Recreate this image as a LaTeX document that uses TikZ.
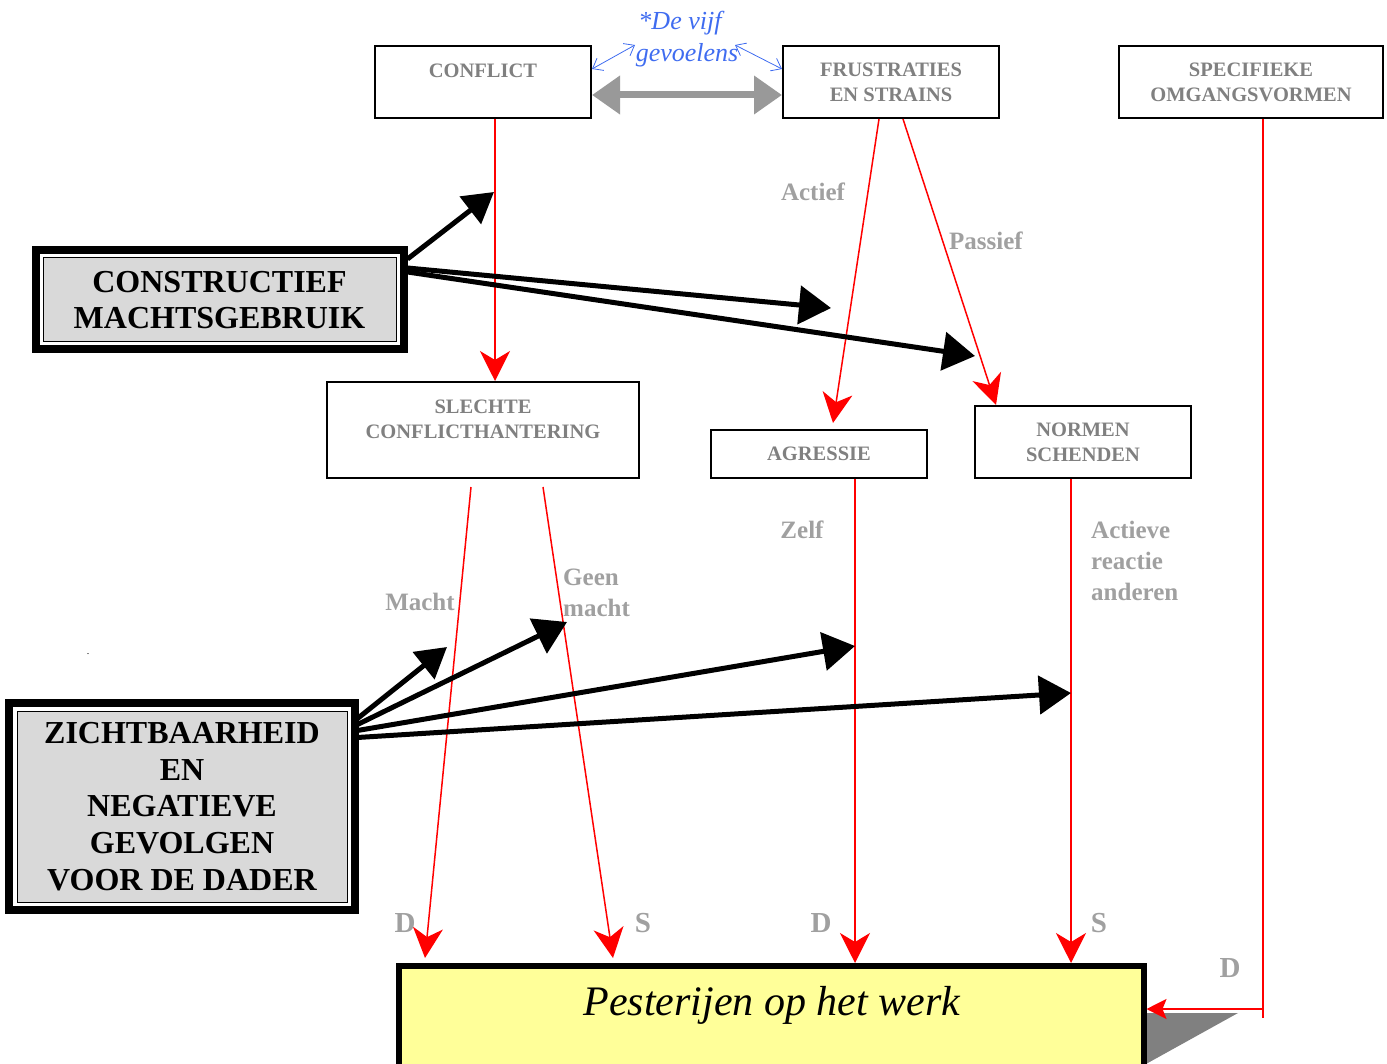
\documentclass[tikz,border=0pt]{standalone}
\usepackage{fontspec}
\setmainfont{Liberation Serif}
\usetikzlibrary{arrows.meta,calc}
\definecolor{boxgray}{HTML}{808080}
\definecolor{lblgray}{HTML}{A0A0A0}
\definecolor{framefill}{HTML}{D9D9D9}
\definecolor{pestyellow}{HTML}{FFFF99}
\definecolor{vblue}{HTML}{3F6CF0}
\definecolor{garrow}{HTML}{999999}
\begin{document}
\begin{tikzpicture}[x=1pt,y=-1pt,
  box/.style={draw=black, line width=2pt, fill=white, inner sep=0pt,
    font=\fontsize{20.5}{25}\selectfont\bfseries, text=boxgray, align=center},
  frame/.style={draw=black, line width=1pt, fill=framefill, inner sep=0pt,
    font=\fontsize{32}{36.6}\selectfont\bfseries, text=black, align=center},
  redarr/.style={draw=red, line width=1.5pt, -{Stealth[length=30pt,width=30pt,inset=9pt]}},
  redarrs/.style={draw=red, line width=1.5pt, -{Stealth[length=20pt,width=20pt,inset=4pt]}},
  redline/.style={draw=red, line width=1.5pt},
  blkarr/.style={draw=black, line width=5pt, -{Triangle[length=32pt,width=38pt]}},
  blkarrs/.style={draw=black, line width=5pt, -{Triangle[length=30pt,width=34pt]}},
  lbl/.style={text=lblgray, font=\fontsize{25}{31}\selectfont\bfseries, inner sep=0pt, align=left},
  dslbl/.style={text=lblgray, font=\fontsize{29}{31}\selectfont\bfseries, inner sep=0pt},
  bluetxt/.style={text=vblue, font=\fontsize{26}{28}\selectfont\itshape, inner sep=0pt},
  bluearr/.style={draw=vblue, line width=0.8pt, {Straight Barb[length=9pt,width=14pt]}-{Straight Barb[length=9pt,width=14pt]}}
]
\useasboundingbox (0,0) rectangle (1387,1064);

% top boxes
\node[box, minimum width=216pt, minimum height=72pt] (conflict) at (483,82) {CONFLICT\\[-9pt]\strut};
\node[box, minimum width=216pt, minimum height=72pt] (frust) at (891,82) {FRUSTRATIES\\EN STRAINS};
\node[box, minimum width=264pt, minimum height=72pt] (spec) at (1251,82) {SPECIFIEKE\\OMGANGSVORMEN};

% middle boxes
\node[box, minimum width=312pt, minimum height=96pt] (slechte) at (483,430) {SLECHTE\\CONFLICTHANTERING\\[-10pt]\strut};
\node[box, minimum width=216pt, minimum height=48pt] (agr) at (819,454) {AGRESSIE};
\node[box, minimum width=216pt, minimum height=72pt] (normen) at (1083,442) {NORMEN\\SCHENDEN};

% framed boxes
\node[frame, minimum width=353pt, minimum height=84pt] (cm) at (219.5,300) {CONSTRUCTIEF\\MACHTSGEBRUIK};
\draw[line width=8pt] ([shift={(-7,-7)}]cm.north west) rectangle ([shift={(7,7)}]cm.south east);
\node[frame, minimum width=330pt, minimum height=191pt] (zicht) at (182,806.5) {ZICHTBAARHEID\\EN\\NEGATIEVE\\GEVOLGEN\\VOOR DE DADER};
\draw[line width=8pt] ([shift={(-7.5,-7.5)}]zicht.north west) rectangle ([shift={(7.5,7.5)}]zicht.south east);

% bottom box with shadow
\fill[boxgray] (1146,1013) -- (1238,1013) -- (1146,1064) -- cycle;
\node[draw=black, line width=6pt, fill=pestyellow, minimum width=744.5pt, minimum height=120pt, inner sep=0pt, anchor=north west] (pest) at (396,963) {};
\node[font=\fontsize{42}{44}\selectfont\itshape, inner sep=0pt] (pestT) at (772,1005) {Pesterijen op het werk};

% stray dot
\node[font=\fontsize{10}{10}\selectfont, inner sep=0pt] (dot) at (88,654) {.};

% "De vijf gevoelens"
\node[bluetxt] (vijf) at (680,23) {*De vijf};
\node[bluetxt] (gevoel) at (687,55) {gevoelens};
\coordinate (bl1) at (635,45);
\coordinate (bl2) at (735,45);
\draw[bluearr] ($(conflict.north east)+(0,24)$) -- (bl1);
\draw[bluearr] (bl2) -- ($(frust.north west)+(0,24)$);

% gray double arrow
\draw[draw=garrow, line width=7pt, {Triangle[length=28pt,width=37pt]}-{Triangle[length=28pt,width=37pt]}]
  ($(conflict.east)+(0,13)$) -- ($(frust.west)+(0,13)$);

% red connectors
\draw[redarr] ([xshift=12pt]conflict.south) -- ([xshift=12pt]slechte.north);
\draw[redarr] ([xshift=-12pt]frust.south) -- ($(agr.north)+(14,-6)$);
\draw[redarr] ([xshift=12pt]frust.south) -- ($(normen.north west)+(22,0)$);
\coordinate (pD1) at ($(pest.north west)+(29,-5)$);
\coordinate (pS1) at ($(pest.north west)+(217,-5)$);
\draw[redarr] ($(slechte.south)+(-12,8)$) -- (pD1);
\draw[redarr] ($(slechte.south)+(60,8)$) -- (pS1);
\draw[redarr] ([xshift=36pt]agr.south) -- ([xshift=36pt]agr.south |- pest.north);
\draw[redarr] ([xshift=-12pt]normen.south) -- ([xshift=-12pt]normen.south |- pest.north);
\coordinate (specC) at (1263,1009);
\draw[redline] ([xshift=12pt]spec.south) -- ($(specC)+(0,9)$);
\draw[redarrs] (specC) -- (pest.east |- specC);

% black arrows from CONSTRUCTIEF MACHTSGEBRUIK
\coordinate (t1) at (494,192);
\coordinate (t2) at (831,308);
\coordinate (t3) at (975,356);
\draw[blkarrs] ($(cm.east)+(11,-41)$) -- (t1);
\draw[blkarr] ($(cm.east)+(11,-32)$) -- (t2);
\draw[blkarr] ($(cm.east)+(11,-28)$) -- (t3);

% black arrows from ZICHTBAARHEID
\coordinate (z1) at (447,647);
\coordinate (z2) at (567,622);
\coordinate (z3) at (855,646);
\coordinate (z4) at (1071,693);
\draw[blkarrs] ($(zicht.north east)+(10,8)$) -- (z1);
\draw[blkarr] ($(zicht.north east)+(10,14)$) -- (z2);
\draw[blkarr] ($(zicht.north east)+(10,20)$) -- (z3);
\draw[blkarr] ($(zicht.north east)+(10,27)$) -- (z4);

% labels
\node[lbl] (actief) at (813,192) {Actief};
\node[lbl] (passief) at (986,241) {Passief};
\node[lbl] (zelf) at (802,530) {Zelf};
\node[lbl, anchor=west] (actieve) at (1091,561) {Actieve\\reactie\\anderen};
\node[lbl] (macht) at (420,602) {Macht};
\node[lbl, anchor=west] (geen) at (563,593) {Geen\\macht};
\node[dslbl] (d1) at (405,923) {D};
\node[dslbl] (s1) at (643,923) {S};
\node[dslbl] (d2) at (821,923) {D};
\node[dslbl] (s2) at (1099,923) {S};
\node[dslbl] (d3) at (1230,968) {D};
\end{tikzpicture}
\end{document}
